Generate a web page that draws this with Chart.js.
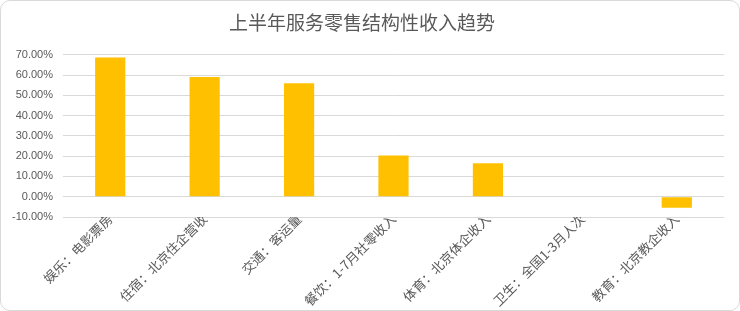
<!DOCTYPE html>
<html>
<head>
<meta charset="utf-8">
<script src="https://cdn.jsdelivr.net/npm/chart.js@4"></script>
<style>
    html, body { margin: 0; padding: 0; background: #fff; }
    #wrap { position: relative; width: 740px; height: 311px; }
    #frame {
        position: absolute; left: 0; top: 0; width: 740px; height: 311px;
        box-sizing: border-box; border: 1px solid #d9d9d9; border-radius: 10px;
        pointer-events: none;
    }
</style>
</head>
<body>
<div id="wrap">
    <canvas id="chart" width="740" height="311"></canvas>
    <div id="frame"></div>
</div>
<script>
const categories = ['娱乐：电影票房', '住宿：北京住企营收', '交通：客运量', '餐饮：1-7月社零收入', '体育：北京体企收入', '卫生：全国1-3月人次', '教育：北京教企收入'];
const growthValues = [68.7, 59.0, 56.0, 20.3, 16.5, null, -5.4];
const yTicks = [-10, 0, 10, 20, 30, 40, 50, 60, 70];

const cjkFont = '"Noto Sans CJK SC", "Microsoft YaHei", sans-serif';
const textColor = '#595959';

document.addEventListener('DOMContentLoaded', () => {
    new Chart(document.getElementById('chart'), {
        type: 'bar',
        data: {
            labels: categories,
            datasets: [{
                data: growthValues,
                backgroundColor: '#ffc000',
                barPercentage: 0.32,
                categoryPercentage: 1.0
            }]
        },
        options: {
            responsive: false,
            animation: false,
            layout: { padding: { left: 0, right: 16, top: 0, bottom: 0 } },
            plugins: {
                legend: { display: false },
                tooltip: { enabled: false },
                title: {
                    display: true,
                    text: '上半年服务零售结构性收入趋势',
                    color: textColor,
                    font: { family: cjkFont, size: 19, weight: 'normal' },
                    padding: { top: 11, bottom: 21 }
                }
            },
            scales: {
                x: {
                    grid: { display: false },
                    border: { display: false },
                    ticks: {
                        color: textColor,
                        font: { family: cjkFont, size: 13 },
                        minRotation: 45,
                        maxRotation: 45,
                        padding: -14,
                        autoSkip: false
                    },
                    afterFit: scale => { scale.height = 94; }
                },
                y: {
                    min: -10,
                    max: 70,
                    afterBuildTicks: scale => {
                        scale.ticks = yTicks.map(v => ({ value: v }));
                    },
                    grid: { color: '#d9d9d9', lineWidth: 1, drawTicks: false },
                    border: { display: false },
                    ticks: {
                        color: textColor,
                        font: { family: '"Liberation Sans", Arial, sans-serif', size: 11 },
                        padding: 10,
                        callback: v => v.toFixed(2) + '%'
                    },
                    afterFit: scale => { scale.width = 63; }
                }
            }
        }
    });
});
</script>
</body>
</html>
